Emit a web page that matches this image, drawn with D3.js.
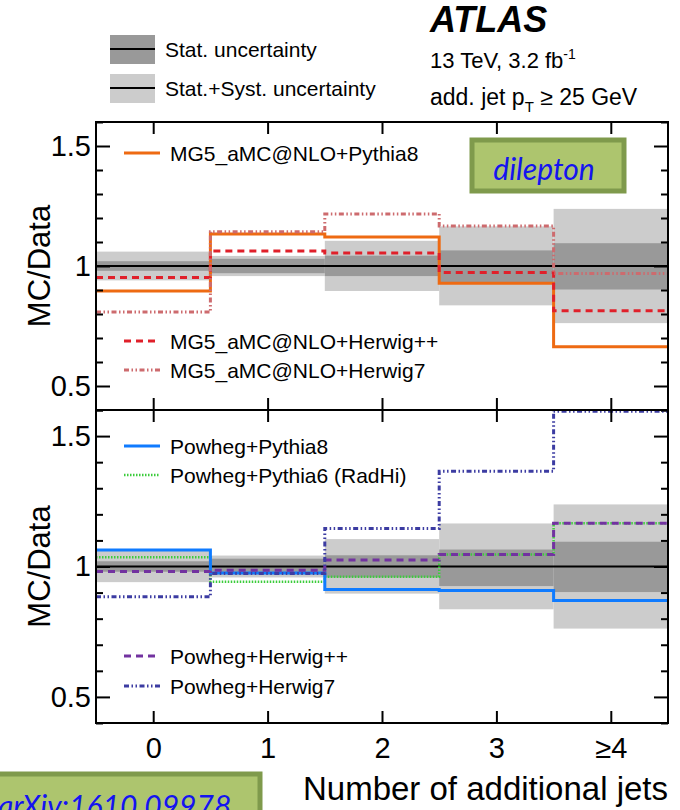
<!DOCTYPE html>
<html>
<head>
<meta charset="utf-8">
<script src="https://cdn.jsdelivr.net/npm/d3@7"></script>
<style>
  body { margin: 0; background: #fff; }
  svg { display: block; }
</style>
</head>
<body>
<div id="chart"></div>
<script>
// bins and tick labels
const binCenters = [0, 1, 2, 3, 4];
const binLabels = ['0', '1', '2', '3', '≥4'];

// data uncertainty bands (relative to data = 1)
const statLo = [0.98, 0.97, 0.958, 0.925, 0.902];
const statHi = [1.02, 1.03, 1.043, 1.065, 1.095];
const totLo = [0.94, 0.958, 0.896, 0.836, 0.762];
const totHi = [1.06, 1.042, 1.105, 1.165, 1.238];

// top panel: MG5_aMC@NLO
const mg5Pythia8 = [0.896, 1.133, 1.121, 0.928, 0.664];
const mg5HerwigPP = [0.952, 1.063, 1.054, 0.973, 0.814];
const mg5Herwig7 = [0.808, 1.143, 1.217, 1.167, 0.969];

// bottom panel: Powheg
const powPythia8 = [1.063, 0.975, 0.912, 0.908, 0.870];
const powPythia6RadHi = [1.035, 0.942, 0.961, 1.046, 1.166];
const powHerwigPP = [0.981, 0.986, 1.025, 1.046, 1.166];
const powHerwig7 = [0.884, 0.973, 1.146, 1.365, 1.595];

const W = 680, H = 810;
const font = "'Liberation Sans', Arial, Helvetica, sans-serif";

const svg = d3.select('#chart').append('svg')
  .attr('width', W).attr('height', H)
  .attr('viewBox', `0 0 ${W} ${H}`);

const x = d3.scaleLinear().domain([-0.5, 4.5]).range([96, 668]);
const yTop = d3.scaleLinear().domain([0.4, 1.6]).range([410, 122]);
const yBot = d3.scaleLinear().domain([0.4, 1.6]).range([723, 410]);

const styles = {
  mg5Pythia8: { color: '#ee6a12', dash: null, width: 3 },
  mg5HerwigPP: { color: '#e0202a', dash: '7,5', width: 3 },
  mg5Herwig7: { color: '#cd6b6e', dash: '5,2.5,1.5,2.5,1.5,2.5', width: 3 },
  powPythia8: { color: '#0f7bff', dash: null, width: 3 },
  powPythia6RadHi: { color: '#3ccc3c', dash: '1.5,1.5', width: 2.5 },
  powHerwigPP: { color: '#7232a0', dash: '7,5', width: 3 },
  powHerwig7: { color: '#3c3ca2', dash: '5,2.5,1.5,2.5,1.5,2.5', width: 3 },
};

function stepPath(vals, y) {
  let d = '';
  vals.forEach((v, i) => {
    const x0 = x(binCenters[i] - 0.5), x1 = x(binCenters[i] + 0.5);
    d += (i === 0 ? `M${x0},${y(v)}` : `L${x0},${y(v)}`) + `L${x1},${y(v)}`;
  });
  return d;
}

function drawPanel(y, series, legendEntries, showXLabels) {
  const g = svg.append('g');
  const [yb, yt] = y.range();

  // total band then stat band
  g.selectAll('.tot').data(binCenters).enter().append('rect')
    .attr('x', (d) => x(d - 0.5)).attr('width', (d) => x(d + 0.5) - x(d - 0.5))
    .attr('y', (d, i) => y(totHi[i])).attr('height', (d, i) => y(totLo[i]) - y(totHi[i]))
    .attr('fill', '#cccccc');
  g.selectAll('.stat').data(binCenters).enter().append('rect')
    .attr('x', (d) => x(d - 0.5)).attr('width', (d) => x(d + 0.5) - x(d - 0.5))
    .attr('y', (d, i) => y(statHi[i])).attr('height', (d, i) => y(statLo[i]) - y(statHi[i]))
    .attr('fill', '#999999');

  // data = 1 line
  g.append('line')
    .attr('x1', x(-0.5)).attr('x2', x(4.5))
    .attr('y1', y(1)).attr('y2', y(1))
    .attr('stroke', '#000').attr('stroke-width', 2);

  // model lines
  series.forEach(([key, vals]) => {
    const s = styles[key];
    g.append('path')
      .attr('d', stepPath(vals, y))
      .attr('fill', 'none')
      .attr('stroke', s.color)
      .attr('stroke-width', s.width)
      .attr('stroke-dasharray', s.dash);
  });

  // axes (ticks pointing inwards, ROOT style)
  const majors = [0.5, 1, 1.5];
  const minors = d3.range(0.4, 1.61, 0.1).map((v) => +v.toFixed(1)).filter((v) => !majors.includes(v));
  const yl = g.append('g').attr('transform', `translate(${x(-0.5)},0)`)
    .call(d3.axisLeft(y).tickValues(majors).tickSize(-14).tickPadding(5).tickFormat(d3.format('')));
  const ylm = g.append('g').attr('transform', `translate(${x(-0.5)},0)`)
    .call(d3.axisLeft(y).tickValues(minors).tickSize(-7).tickFormat(''));
  const yr = g.append('g').attr('transform', `translate(${x(4.5)},0)`)
    .call(d3.axisRight(y).tickValues(majors).tickSize(-14).tickFormat(''));
  const yrm = g.append('g').attr('transform', `translate(${x(4.5)},0)`)
    .call(d3.axisRight(y).tickValues(minors).tickSize(-7).tickFormat(''));
  const xb = g.append('g').attr('transform', `translate(0,${yb})`)
    .call(d3.axisBottom(x).tickValues(binCenters).tickSize(-12).tickPadding(14)
      .tickFormat((d, i) => (showXLabels ? binLabels[i] : '')));
  const xt = g.append('g').attr('transform', `translate(0,${yt})`)
    .call(d3.axisTop(x).tickValues(binCenters).tickSize(-12).tickFormat(''));

  [yl, ylm, yr, yrm, xb, xt].forEach((a) => {
    a.select('.domain').remove();
    a.selectAll('.tick line').attr('stroke', '#000').attr('stroke-width', 2);
    a.selectAll('.tick text').attr('font-family', font).attr('font-size', 29).attr('fill', '#000');
  });
  xb.selectAll('.tick text').attr('dy', '0.71em');

  // frame
  g.append('rect')
    .attr('x', x(-0.5)).attr('y', yt)
    .attr('width', x(4.5) - x(-0.5)).attr('height', yb - yt)
    .attr('fill', 'none').attr('stroke', '#000').attr('stroke-width', 2);

  // y title
  g.append('text')
    .attr('transform', `translate(50,${y(1)}) rotate(-90)`)
    .attr('text-anchor', 'middle')
    .attr('font-family', font).attr('font-size', 31)
    .text('MC/Data');

  // in-panel legend
  legendEntries.forEach(([key, label, ly]) => {
    const s = styles[key];
    g.append('line')
      .attr('x1', 124).attr('x2', 160).attr('y1', ly).attr('y2', ly)
      .attr('stroke', s.color).attr('stroke-width', s.width)
      .attr('stroke-dasharray', s.dash);
    g.append('text')
      .attr('x', 170).attr('y', ly + 8)
      .attr('font-family', font).attr('font-size', 21)
      .text(label);
  });
}

drawPanel(yTop,
  [['mg5Pythia8', mg5Pythia8], ['mg5HerwigPP', mg5HerwigPP], ['mg5Herwig7', mg5Herwig7]],
  [['mg5Pythia8', 'MG5_aMC@NLO+Pythia8', 153],
   ['mg5HerwigPP', 'MG5_aMC@NLO+Herwig++', 341], ['mg5Herwig7', 'MG5_aMC@NLO+Herwig7', 370]],
  false);

drawPanel(yBot,
  [['powPythia6RadHi', powPythia6RadHi], ['powPythia8', powPythia8], ['powHerwigPP', powHerwigPP], ['powHerwig7', powHerwig7]],
  [['powPythia8', 'Powheg+Pythia8', 446], ['powPythia6RadHi', 'Powheg+Pythia6 (RadHi)', 475],
   ['powHerwigPP', 'Powheg+Herwig++', 656], ['powHerwig7', 'Powheg+Herwig7', 686]],
  true);

// x title
svg.append('text')
  .attr('x', 668).attr('y', 800)
  .attr('text-anchor', 'end')
  .attr('font-family', font).attr('font-size', 33)
  .text('Number of additional jets');

// uncertainty legend (top left)
const bandLegend = [
  ['Stat. uncertainty', '#999999', 49],
  ['Stat.+Syst. uncertainty', '#cccccc', 88],
];
bandLegend.forEach(([label, fill, cy]) => {
  svg.append('rect').attr('x', 110).attr('y', cy - 14).attr('width', 45).attr('height', 29).attr('fill', fill);
  svg.append('line').attr('x1', 110).attr('x2', 155).attr('y1', cy).attr('y2', cy)
    .attr('stroke', '#000').attr('stroke-width', 2);
  svg.append('text').attr('x', 165).attr('y', cy + 8)
    .attr('font-family', font).attr('font-size', 21).text(label);
});

// ATLAS label
svg.append('text')
  .attr('x', 430).attr('y', 32)
  .attr('font-family', font).attr('font-size', 36)
  .attr('font-weight', 'bold').attr('font-style', 'italic')
  .text('ATLAS');

const t1 = svg.append('text').attr('x', 430).attr('y', 68)
  .attr('font-family', font).attr('font-size', 22);
t1.append('tspan').text('13 TeV, 3.2 fb');
t1.append('tspan').attr('dy', -9).attr('font-size', 14).text('-1');

const t2 = svg.append('text').attr('x', 430).attr('y', 105)
  .attr('font-family', font).attr('font-size', 23);
t2.append('tspan').text('add. jet p');
t2.append('tspan').attr('dy', 7).attr('font-size', 15).text('T');
t2.append('tspan').attr('dy', -7).text(' ≥ 25 GeV');

// green label boxes
const boxFont = "Lato, 'Open Sans', sans-serif";
svg.append('rect')
  .attr('x', 472).attr('y', 140).attr('width', 152).attr('height', 51)
  .attr('fill', '#adc56e').attr('stroke', '#7f9a4c').attr('stroke-width', 5);
svg.append('text')
  .attr('x', 544).attr('y', 180)
  .attr('text-anchor', 'middle')
  .attr('font-family', boxFont).attr('font-size', 30).attr('font-style', 'italic')
  .attr('fill', '#1414f0')
  .text('dilepton');

svg.append('rect')
  .attr('x', -10).attr('y', 774).attr('width', 270).attr('height', 60)
  .attr('fill', '#adc56e').attr('stroke', '#7f9a4c').attr('stroke-width', 5);
svg.append('text')
  .attr('x', -2).attr('y', 817)
  .attr('font-family', boxFont).attr('font-size', 30).attr('font-style', 'italic')
  .attr('fill', '#1414f0')
  .text('arXiv:1610.09978');
</script>
</body>
</html>
